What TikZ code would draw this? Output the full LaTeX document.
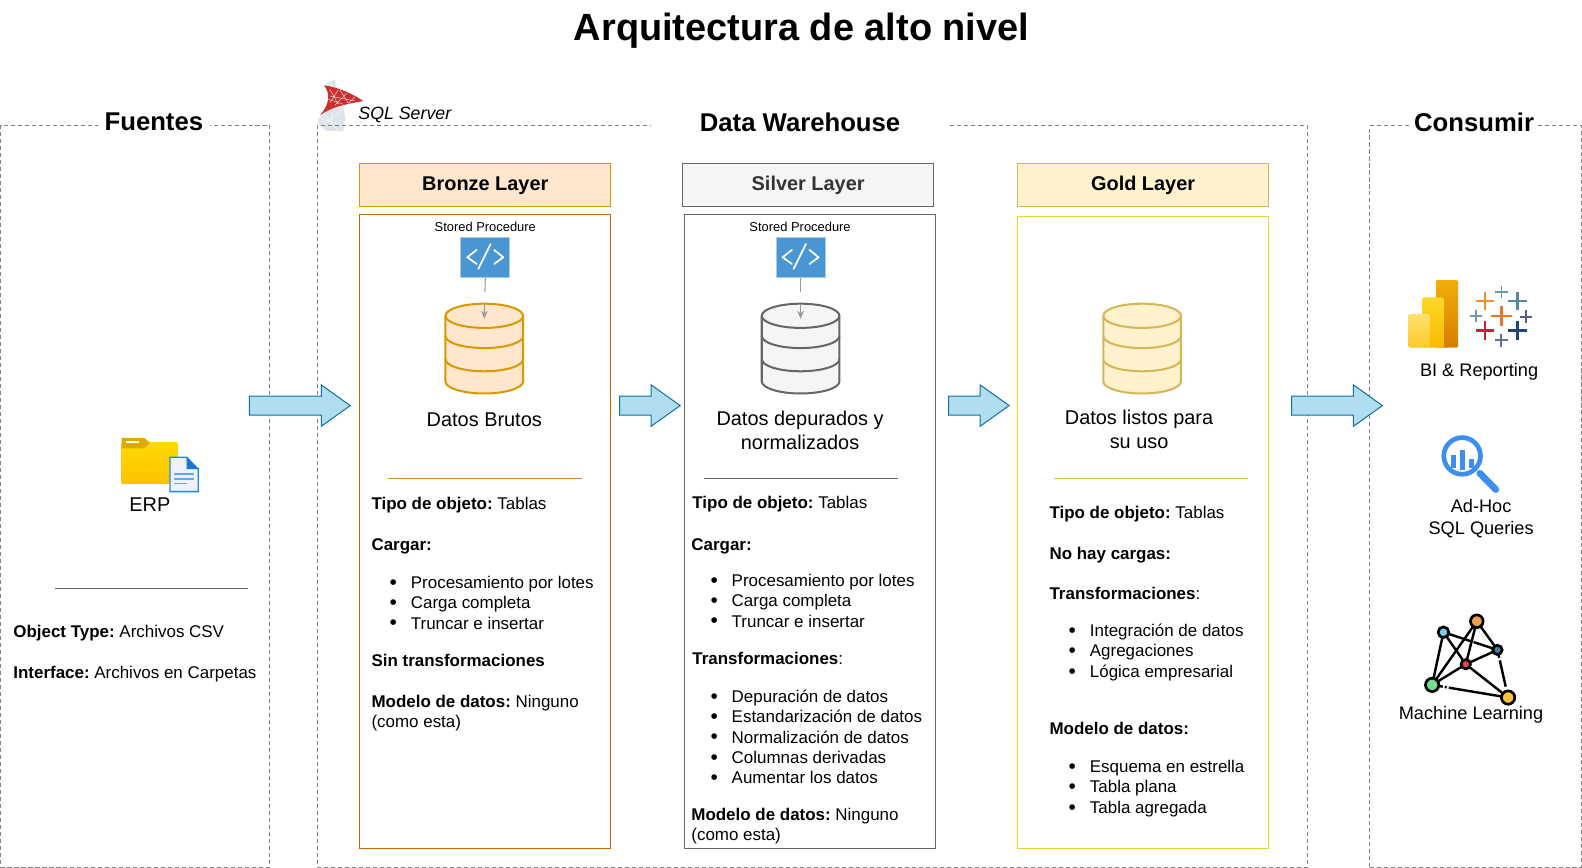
\documentclass[tikz,border=0pt]{standalone}
\usepackage{fontspec}
\setmainfont{Liberation Sans}
\frenchspacing
\usetikzlibrary{shapes.arrows,arrows.meta}
\definecolor{frameg}{HTML}{808080}
\definecolor{arrowf}{HTML}{B1DDF0}
\definecolor{arrowd}{HTML}{10739E}
\definecolor{bronzef}{HTML}{FFE6CC}
\definecolor{bronzed}{HTML}{D79B00}
\definecolor{bronzeb}{HTML}{CC6600}
\definecolor{silverf}{HTML}{F5F5F5}
\definecolor{silverd}{HTML}{666666}
\definecolor{goldf}{HTML}{FFF2CC}
\definecolor{goldd}{HTML}{D6B656}
\definecolor{goldb}{HTML}{E3D92E}
\definecolor{codeb}{HTML}{4A96D2}
\definecolor{codee}{HTML}{A6CBE8}
\definecolor{foldtop}{HTML}{FFD900}
\definecolor{foldbot}{HTML}{FDC200}
\definecolor{foldtab}{HTML}{DEAA00}
\definecolor{docb}{HTML}{1E88E5}
\definecolor{docf}{HTML}{1976D2}
\definecolor{docl}{HTML}{64A8EC}
\definecolor{pbia}{HTML}{F0AF0A}
\definecolor{pbib}{HTML}{D77D00}
\definecolor{pbic}{HTML}{FFD728}
\definecolor{pbid}{HTML}{FAB900}
\definecolor{pbie}{HTML}{FFE26E}
\definecolor{pbif}{HTML}{FDC828}
\definecolor{taborange}{HTML}{E8762B}
\definecolor{tabamber}{HTML}{F28E2B}
\definecolor{tabteal}{HTML}{5B879B}
\definecolor{tablight}{HTML}{7099A6}
\definecolor{tabpurple}{HTML}{59598E}
\definecolor{tabred}{HTML}{C72035}
\definecolor{tabblue}{HTML}{1F447A}
\definecolor{tabslate}{HTML}{5F6EA0}
\definecolor{magb}{HTML}{3D8EF0}
\definecolor{sqlred}{HTML}{C9302F}
\definecolor{sqlgrey}{HTML}{DDE3E8}
\definecolor{mlo}{HTML}{E6A050}
\definecolor{mlc}{HTML}{78CDEB}
\definecolor{mld}{HTML}{467DA0}
\definecolor{mlr}{HTML}{E64650}
\definecolor{mlg}{HTML}{78DC91}
\definecolor{mly}{HTML}{FAC33C}
\newcommand{\fsz}[1]{\fontsize{#1}{#1}\selectfont}
\newcommand{\bl}{\makebox[15.75pt][l]{\raisebox{-0.7pt}{\fontsize{15.5}{15.5}\selectfont\textbullet}}}
\tikzset{
  x=0.75pt,y=-0.75pt,
  framebox/.style={draw=frameg,dash pattern=on 3pt off 2.2pt,line width=0.75pt},
  framelabel/.style={fill=white,font=\fsz{19.1}\bfseries,inner sep=2pt,inner xsep=5pt},
  layerhead/.style={font=\fsz{14.8}\bfseries,line width=0.75pt,minimum height=31.5pt,minimum width=186.75pt,inner sep=0pt,anchor=north west,text height=10.5pt,text depth=3pt},
  layerbody/.style={line width=0.8pt,fill=white,minimum width=186.75pt,anchor=north west,inner sep=0pt},
  bodytxt/.style={font=\fsz{12.6},anchor=base west,inner sep=0pt,yshift=-1.1pt},
  captxt/.style={font=\fsz{14.8},align=center,inner sep=0pt},
  sidetxt/.style={font=\fsz{13.5},align=center,inner sep=0pt},
  stored/.style={font=\fsz{9.6},inner sep=0pt},
  flowarrow/.style={draw=arrowd,fill=arrowf,line width=0.75pt,shape=single arrow,inner sep=6.75pt,
     single arrow head extend=8.25pt,minimum width=30pt,single arrow tip angle=71,single arrow head indent=0pt},
  sepline/.style={line width=0.75pt},
  feed/.style={draw=black!40,line width=0.8pt,-{Stealth[length=6pt,width=5pt]}},
  iconscale/.style={x=0.24775pt,y=-0.24775pt},
  mledge/.style={line width=1.8pt,black},
  mlnode/.style={draw=black,line width=2pt}
}
% database cylinder: #1 name, #2 centre x, #3 fill, #4 stroke
\newcommand{\dbicon}[4]{%
  \begin{scope}[shift={(#2,0)}]
    \filldraw[fill=#3,draw=#4,line width=1.5pt]
      (-38.5,313) arc[start angle=180,end angle=360,x radius=38.5,y radius=12]
      -- (38.5,378) arc[start angle=0,end angle=180,x radius=38.5,y radius=12] -- cycle;
    \draw[draw=#4,line width=1.5pt]
      (-38.5,313) arc[start angle=180,end angle=0,x radius=38.5,y radius=12]
      (-38.5,333) arc[start angle=180,end angle=0,x radius=38.5,y radius=12]
      (-38.5,356) arc[start angle=180,end angle=0,x radius=38.5,y radius=12];
    \coordinate (#1) at (0,316);
  \end{scope}}
% stored procedure icon: #1 node name, #2 centre x
\newcommand{\codeicon}[2]{%
  \node[draw=codee,fill=codeb,line width=0.6pt,minimum width=36.5pt,minimum height=29.5pt,inner sep=0pt] (#1) at (#2,255) {};
  \draw[white,line width=1.3pt,line cap=round,line join=round]
    (#2-8.6,247.7) -- (#2-17.8,255) -- (#2-8.6,261.6)
    (#2+8.8,247.7) -- (#2+17.8,255) -- (#2+8.8,261.6)
    (#2+5.3,241.8) -- (#2-6.9,266.5);}
\newcommand{\tabplus}[5]{%
  \draw[#4,line width=#5pt] (#1-#3,#2) -- (#1+#3,#2) (#1,#2-#3) -- (#1,#2+#3);}
\begin{document}
\begin{tikzpicture}
\useasboundingbox (0,0) rectangle (1568,860);
\fill[white] (0,0) rectangle (1568,860);

\node[font=\fsz{28.2}\bfseries,inner sep=0pt] (title) at (794.5,30) {Arquitectura de alto nivel};

% SQL Server logo
\begin{scope}[shift={(307.2,75.3)},iconscale]
  \fill[sqlgrey] (48,22) -- (75,12) -- (82,45) -- (70,50) -- cycle;
  \fill[sqlgrey] (25,130) -- (45,105) -- (100,90) -- (106,125) -- (100,165) -- (50,165) -- (25,145) -- cycle;
  \draw[white,line width=0.25pt] (30,125) -- (100,150) (40,110) -- (85,165) (70,100) -- (60,165) (100,100) -- (35,150) (60,18) -- (75,45);
  \fill[sqlred] (42,28) .. controls (90,35) and (130,55) .. (160,75)
     .. controls (110,85) and (70,90) .. (30,118) .. controls (55,90) and (65,55) .. (42,28) -- cycle;
  \draw[white,line width=0.25pt] (60,40) -- (85,85) (85,42) -- (60,80) (110,52) -- (75,88) (60,60) -- (135,75) (90,42) -- (115,82) (135,62) -- (115,82) (55,70) -- (100,85);
\end{scope}

% frames
\node[framebox,draw,minimum width=200.25pt,minimum height=551.25pt,inner sep=0pt,anchor=north west] (fsrc) at (0,124) {};
\node[framebox,draw,minimum width=736pt,minimum height=551.25pt,inner sep=0pt,anchor=north west] (fdw) at (314,124) {};
\node[framebox,draw,minimum width=157.5pt,minimum height=551.25pt,inner sep=0pt,anchor=north west] (fuse) at (1357,124) {};
\node[framelabel] (lsrc) at (152.5,121) {Fuentes};
\node[framelabel,inner xsep=36pt] (ldw) at (793,121) {Data Warehouse};
\node[framelabel,inner xsep=3pt] (luse) at (1461,121) {Consumir};
\node[font=\fsz{13.2}\itshape,inner sep=0pt,anchor=base west] (sqls) at (355,118) {SQL Server};

% headers and bodies
\node[layerhead,draw=bronzed,fill=bronzef] (hb) at (356,162) {Bronze Layer};
\node[layerhead,draw=silverd,fill=silverf,text=black!80] (hs) at (676,162) {Silver Layer};
\node[layerhead,draw=goldd,fill=goldf] (hg) at (1008,162) {Gold Layer};
\node[layerbody,draw=bronzeb,minimum height=471pt] (bb) at (356,212) {};
\node[layerbody,draw=silverd,minimum height=471pt] (bs) at (678,212) {};
\node[layerbody,draw=goldb,minimum height=469.5pt] (bg) at (1008,214) {};

% stored procedures and databases
\node[stored] (spb) at (481,225) {Stored Procedure};
\node[stored] (sps) at (793,225) {Stored Procedure};
\dbicon{dbb}{480}{bronzef}{bronzed}
\dbicon{dbs}{793.5}{silverf}{silverd}
\dbicon{dbg}{1132}{goldf}{goldd}
\codeicon{codeb1}{481}
\codeicon{codes1}{793.5}
\draw[feed,dash pattern=on 10.5pt off 9pt on 30pt] (codeb1.south) -- (dbb);
\draw[feed,dash pattern=on 10.5pt off 9pt on 30pt] (codes1.south) -- (dbs);

% captions
\node[captxt] (cb) at (480,416) {Datos Brutos};
\node[captxt,execute at begin node=\setlength{\baselineskip}{17.25pt}] (cs) at (793,426.5) {Datos depurados y\\normalizados};
\node[captxt,execute at begin node=\setlength{\baselineskip}{17.25pt}] (cg) at (1129,425.5) {Datos listos para\\su uso};

% flow arrows
\node[flowarrow,minimum height=75pt] (a1) at (290.5,402) {};
\node[flowarrow,minimum height=45pt] (a2) at (637.5,402) {};
\node[flowarrow,minimum height=45pt] (a3) at (963.5,402) {};
\node[flowarrow,minimum height=67.5pt] (a4) at (1318.5,402) {};

% separators
\coordinate (s1a) at (385,474); \coordinate (s1b) at (577,474);
\coordinate (s2a) at (698,474); \coordinate (s2b) at (890,474);
\coordinate (s3a) at (1045,474); \coordinate (s3b) at (1237,474);
\coordinate (s4a) at (55,583); \coordinate (s4b) at (246,583);
\draw[sepline,draw=bronzeb!80!white] (s1a) -- (s1b);
\draw[sepline,draw=silverd] (s2a) -- (s2b);
\draw[sepline,draw=goldd] (s3a) -- (s3b);
\draw[sepline,draw=silverd] (s4a) -- (s4b);

% text: sources
\node[captxt] (erp) at (148.5,500) {ERP};
\node[bodytxt] (src1) at (13,630) {\textbf{Object Type:} Archivos CSV};
\node[bodytxt] (src2) at (13,671) {\textbf{Interface:} Archivos en Carpetas};

% text: bronze
\foreach \px/\py/\tx [count=\i] in {
  368/504/{\textbf{Tipo de objeto:} Tablas},
  368/544/{\textbf{Cargar:}},
  386/582/{\bl Procesamiento por lotes},
  386/602/{\bl Carga completa},
  386/622/{\bl Truncar e insertar},
  368/659/{\textbf{Sin transformaciones}},
  368/700/{\textbf{Modelo de datos:} Ninguno},
  368/720/{(como esta)}}
  \node[bodytxt] (tb\i) at (\px,\py) {\tx};

% text: silver
\foreach \px/\py/\tx [count=\i] in {
  686/503/{\textbf{Tipo de objeto:} Tablas},
  685/544/{\textbf{Cargar:}},
  704/580/{\bl Procesamiento por lotes},
  704/600/{\bl Carga completa},
  704/620/{\bl Truncar e insertar},
  686/657/{\textbf{Transformaciones}:},
  704/695/{\bl Depuración de datos},
  704/715/{\bl Estandarización de datos},
  704/735/{\bl Normalización de datos},
  704/755/{\bl Columnas derivadas},
  704/775/{\bl Aumentar los datos},
  685/812/{\textbf{Modelo de datos:} Ninguno},
  685/832/{(como esta)}}
  \node[bodytxt] (ts\i) at (\px,\py) {\tx};

% text: gold
\foreach \px/\py/\tx [count=\i] in {
  1040/512/{\textbf{Tipo de objeto:} Tablas},
  1040/553/{\textbf{No hay cargas:}},
  1040/593/{\textbf{Transformaciones}:},
  1059/629/{\bl Integración de datos},
  1059/649/{\bl Agregaciones},
  1059/670/{\bl Lógica empresarial},
  1040/727/{\textbf{Modelo de datos:}},
  1059/764/{\bl Esquema en estrella},
  1059/784/{\bl Tabla plana},
  1059/805/{\bl Tabla agregada}}
  \node[bodytxt] (tg\i) at (\px,\py) {\tx};

% folder + file icon
\begin{scope}[shift={(99.1,416.2)},iconscale]
  \shade[top color=foldtop,bottom color=foldbot] (65,69) rectangle (232,190);
  \fill[foldtab] (65,54) -- (133,54) -- (150,69) -- (133,85) -- (65,85) -- cycle;
  \fill[white] (78,62) rectangle (117,70);
  \filldraw[fill=blue!6,draw=docb,line width=1pt,line join=round] (210,112) -- (260,112) -- (295,148) -- (295,215) -- (210,215) -- cycle;
  \fill[docf] (260,112) -- (295,148) -- (260,148) -- cycle;
  \draw[docl,line width=1.3pt] (222,162) -- (283,162) (222,177) -- (283,177) (222,191) -- (260,191);
\end{scope}

% Power BI + Tableau
\begin{scope}[shift={(1367.6,257.7)},iconscale]
  \shade[top color=pbia,bottom color=pbib,rounded corners=1.5pt] (168,60) rectangle (235,263);
  \shade[top color=pbic,bottom color=pbid,rounded corners=1.5pt] (127,112) rectangle (192,263);
  \shade[top color=pbie,bottom color=pbif,rounded corners=1.5pt] (85,162) rectangle (150,263);
  \tabplus{365}{168}{31}{taborange}{2}
  \tabplus{316}{123}{28}{tabamber}{2}
  \tabplus{413}{123}{28}{tabteal}{2}
  \tabplus{365}{96}{19}{tablight}{1.2}
  \tabplus{289}{168}{19}{tablight}{1.2}
  \tabplus{439}{170}{19}{tabpurple}{1.5}
  \tabplus{316}{212}{28}{tabred}{2}
  \tabplus{413}{212}{28}{tabblue}{2}
  \tabplus{365}{241}{19}{tabslate}{1.5}
\end{scope}
\node[sidetxt] (bi) at (1466,369) {BI \& Reporting};

% Ad-hoc
\begin{scope}[shift={(1367.6,416.2)},iconscale]
  \fill[magb] (215,105) rectangle (230,143);
  \fill[magb] (240,90) rectangle (256,150);
  \fill[magb] (268,118) rectangle (283,145);
  \draw[magb,line width=3.5pt] (247,108) circle[radius=55];
  \draw[magb,line width=5pt,line cap=round] (300,160) -- (348,209);
\end{scope}
\node[sidetxt,execute at begin node=\setlength{\baselineskip}{16.5pt}] (adhoc) at (1468,514) {Ad-Hoc\\SQL Queries};

% Machine learning network
\begin{scope}[shift={(1367.6,416.2)},iconscale]
  \coordinate (mo) at (291,604); \coordinate (mc) at (191,637); \coordinate (md) at (353,690);
  \coordinate (mr) at (258,733); \coordinate (mg) at (157,795); \coordinate (my) at (385,833);
  \draw[mledge] (mc) -- (mg) (mc) -- (mr) -- (my) (mo) -- (mg) (mo) -- (mr) (mo) -- (md) (md) -- (mr) -- (mg);
  \draw[mledge,dash pattern=on 22pt off 1.5pt on 20pt] (mc) -- (md);
  \draw[mledge,dash pattern=on 6pt off 2pt on 20pt] (md) -- (my);
  \draw[mledge,dash pattern=on 8pt off 1.5pt on 1.5pt off 1.5pt on 40pt] (mg) -- (my);
  \path[mlnode,fill=mlo] (mo) circle[radius=19];
  \path[mlnode,fill=mlc] (mc) circle[radius=16];
  \path[mlnode,fill=mld] (md) circle[radius=14];
  \path[mlnode,fill=mlr] (mr) circle[radius=14];
  \path[mlnode,fill=mlg] (mg) circle[radius=20];
  \path[mlnode,fill=mly] (my) circle[radius=20];
\end{scope}
\node[sidetxt] (ml) at (1458,708) {Machine Learning};
\end{tikzpicture}
\end{document}
